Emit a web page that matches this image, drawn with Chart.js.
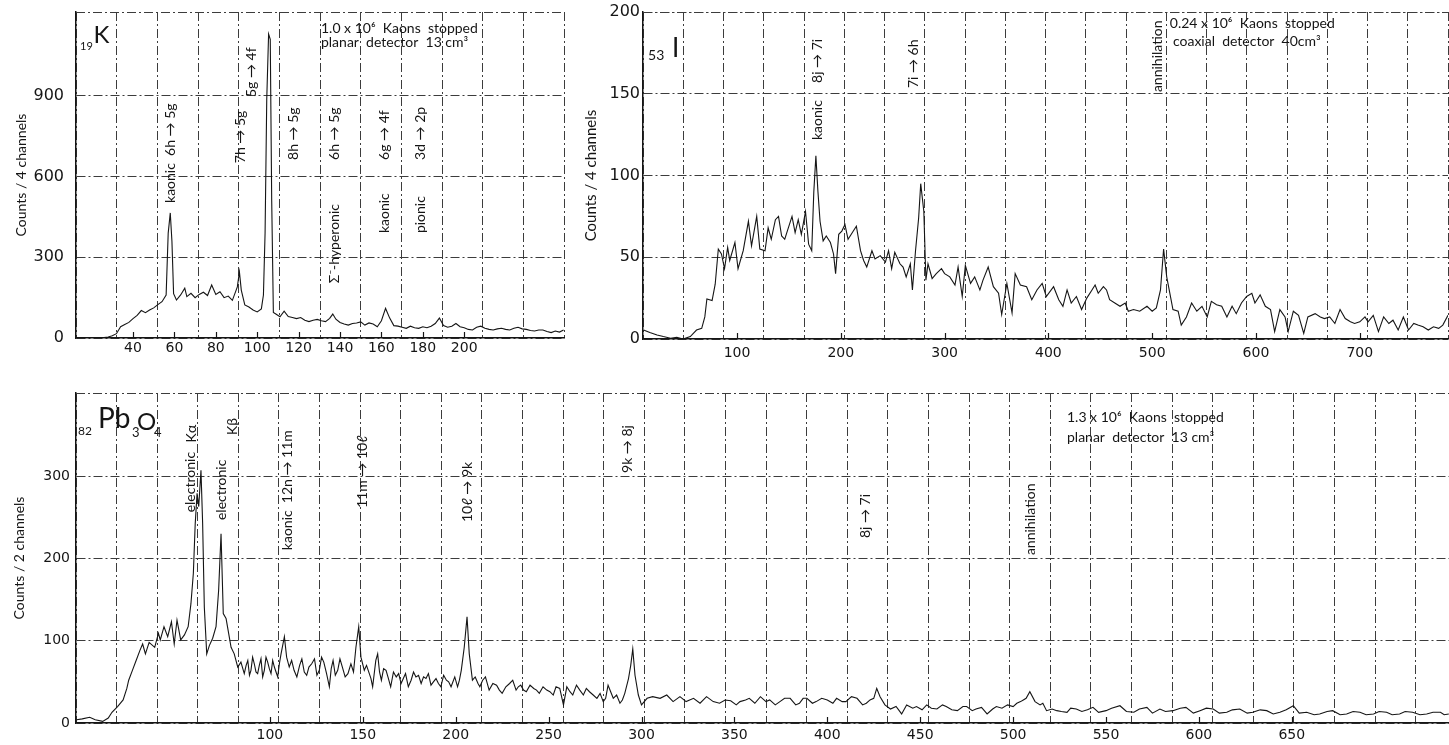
<!DOCTYPE html>
<html>
<head>
<meta charset="utf-8">
<title>Kaonic X-ray spectra</title>
<script src="https://cdn.jsdelivr.net/npm/chart.js@4.4.1/dist/chart.umd.min.js"></script>
<style>
  html, body { margin: 0; padding: 0; background: #fff; }
  body { position: relative; width: 1449px; height: 745px; overflow: hidden; }
  canvas { position: absolute; }
</style>
</head>
<body>
<canvas id="kChart" width="575" height="365" style="left:0;top:0"></canvas>
<canvas id="iChart" width="874" height="365" style="left:575px;top:0"></canvas>
<canvas id="pbChart" width="1449" height="365" style="left:0;top:380px"></canvas>
<script>
// 19K, planar detector (keV, counts / 4 channels)
const kEnergy = [
  12,14,16,18,20,22,24,26,28,30,
  32,34,36,38,40,42,44,46,48,50,
  52,54,56,57,58,58.8,59.6,61,63,65,
  66,68,70,72,74,76,78,80,82,84,
  86,88,90.4,91.4,92.3,94,96,98,100,102,
  103,103.8,104.6,105.5,106.3,107,107.8,109,111,113,
  115,117,119,121,123,125,127,129,131,133,
  135,136.5,138,140,142,144,146,148,150,152,
  154,156,158,160,162,164,166,168,170,172,
  174,176,178,180,182,184,186,188,190,192,
  194,196,198,200,202,204,206,208,210,212,
  214,216,218,220,222,224,226,228,230,232,
  234,236,238,240,242,244,246,248
];
const kCounts = [
  0,0,1,0,0,1,0,2,4,8,
  16,42,50,58,72,84,102,94,104,112,
  124,135,160,390,465,360,165,141,160,185,
  154,166,150,162,170,158,197,162,172,150,
  156,140,190,246,178,123,115,104,97,108,
  160,390,885,1130,1110,510,95,89,79,100,
  80,76,72,76,66,61,66,69,64,61,
  73,89,70,58,52,48,54,56,60,48,
  56,52,42,64,110,74,46,44,40,36,
  44,38,36,42,38,44,54,74,46,40,
  44,54,42,38,32,30,40,44,36,32,
  30,34,36,32,30,36,40,34,32,28,
  26,30,30,24,20,26,22,30
];

// 53I, coaxial detector (keV, counts / 4 channels)
const iEnergy = [
  10,16,23,29,36,42,48,55,61,66,
  69,71,76,79,82,85,88,91,93,98,
  101,106,111,114,119,122,127,130,133,137,
  140,143,146,149,153,156,159,162,166,169,
  172,174,176,178,180,183,186,190,193,195,
  198,201,204,207,211,215,219,222,225,230,
  233,238,243,246,249,252,257,260,263,267,
  269,272,275,277,280,282,284,288,292,297,
  300,305,310,313,317,320,325,329,334,337,
  342,347,352,355,360,365,368,373,379,384,
  389,394,398,405,410,414,418,422,427,432,
  437,442,445,448,453,456,459,464,469,474,
  477,482,488,495,500,504,508,511,514,517,
  520,525,528,533,538,543,548,553,557,562,
  567,572,577,581,586,591,596,599,604,609,
  614,618,623,628,631,636,641,646,650,657,
  662,666,671,676,681,686,691,695,700,705,
  708,713,718,723,728,732,737,742,747,752,
  756,761,766,771,776,780,785
];
const iCounts = [
  5.5,4,2.5,1.5,0.5,1,0,1.5,5.5,6.5,
  13.5,24.5,23.5,33.5,55,52,43,56,48,59,
  43,54,72,57,75,55,54,68,61,73,
  75,63,61,67,75,65,73,64,78,58,
  54,90,112,90,72,60,63,59,52,40,
  64,66,70,61,65,69,54,48,44,54,
  49,51,47,54,43,53,46,44,38,46,
  30,54,74,95,78,36,46,37,40,43,
  40,38,33,44,26,45,34,38,30,36,
  44,32,28,15,34,16,40,33,32,24,
  30,34,26,32,24,20,30,22,26,18,
  25,30,33,28,32,30,24,22,20,22,
  17,18,17,20,17,19,30,55,38,28,
  18,17,8.5,13.5,22,17,20,13.5,23,21,
  20,13.5,20,15.5,22,26,28,22,27,20,
  18,4.5,18,13.5,4.5,17,14.5,3.5,13.5,15.5,
  13.5,12.5,13.5,9.5,18,12.5,10.5,9.5,10.5,13.5,
  10.5,14.5,4.5,13.5,9.5,11.5,5.5,13.5,5.5,9.5,
  8.5,7.5,5.5,7.5,6.5,8.5,14.5
];

// 82Pb3O4, planar detector (keV, counts / 2 channels)
const pbEnergy = [
  -4,-1,3,6,10,13,15,18,21,23,
  24,26,28,30,31.5,33,35,38,40,41,
  43,45,47,48.5,50,52,54,56,57.5,58.8,
  59.8,60.8,61.7,62.9,63.8,64.7,66,67.4,69.2,71,
  72.4,73.7,74.9,76.4,77.8,79.1,80.8,82.7,84.4,86.2,
  87.2,88.1,89,89.8,90.7,91.6,92.5,93.4,94.3,95.2,
  96.1,97,97.9,98.8,99.7,100.6,101.5,102.4,103.3,104.2,
  105.1,106,107.8,109,110.4,111.7,113,114.5,116,117.2,
  118.5,119.8,121,122.5,124,125.3,126.6,127.8,129,130.5,
  132,133,134,135.2,136.5,137.7,139,140.5,142,143.6,
  145,146.3,147.8,149,150.8,152,153.5,154.4,155.3,157,
  158,159,160,161.2,162.5,163.8,165,166.5,168,169.3,
  170.6,171.8,173,174.5,176,177.3,178.6,180,181.4,182.7,
  184,185.3,186.7,188,189.4,190.7,192,193.5,195,196.2,
  197.5,199.5,201,202,203,204.6,206.1,207.3,209,210.5,
  212,213,214.5,216,218,220,222,223.5,225,227,
  229,230.7,232.5,233.7,235,236.5,238,240,242,243.5,
  245,247,249,250.7,252.5,254,256,258,259.8,261.5,
  263,265,266.8,268.7,270.3,272,274,276,277.7,279.4,
  280.7,282,283.4,284.8,286.6,288.4,289.7,291,293,294.2,
  295.3,296.5,298.3,300,303,306,310,313.6,317,320.7,
  324,328,331.5,335,338.6,342,345,348,351,353,
  356,358,361,364,367,369,372,374.5,377,380,
  383,385,387,389,392,394,397,400,403,405,
  408,410,413,416,419,421,423,425,426.6,428.4,
  431,434,437,440,442.7,446,448,451,453.5,456,
  459,462,464,467,470,473,475,478,480,483,
  486,489,491,494,497,500,502,504,505.5,507,
  509,511.8,514.5,516,518,521,523.5,526,529,531,
  534,537,540,543,546,550,553,557.5,561,565,
  568,572,575,579,582,586,590,593,597,600.6,
  604,607.7,611,615,618,622,626,629,633,636.5,
  640,643.6,647,650.8,654,658,662,665,669,672,
  676,679.5,683,686.7,690,694,697,701,704,708,
  711,715,719,722.6,726,730,732,734.5
];
const pbCounts = [
  4,5,7,4,2,6,13,20,28,42,
  52,64,76,88,96,84,98,92,109,101,
  117,105,123,96,125,101,107,117,145,182,
  242,279,263,307,242,141,84,94,103,117,
  161,230,133,127,109,92,84,68,74,60,
  70,76,58,64,80,72,62,60,70,78,
  56,64,80,74,66,60,76,68,62,56,
  72,84,105,80,68,76,64,56,70,78,
  62,58,68,72,78,58,64,80,74,60,
  44,66,76,58,64,78,68,56,60,72,
  62,92,117,80,64,70,60,54,44,76,
  84,62,52,66,64,54,44,62,56,60,
  48,54,60,44,52,62,56,58,48,56,
  54,60,46,50,54,48,44,58,52,50,
  44,56,44,52,64,92,129,84,52,56,
  48,44,52,56,40,48,46,40,36,44,
  48,52,40,44,46,40,38,46,42,40,
  36,44,40,38,34,44,42,22,44,38,
  34,46,40,34,42,38,34,30,36,26,
  30,46,38,30,34,24,28,36,54,70,
  90,58,34,22,30,32,30,34,26,32,
  26,30,24,32,26,24,28,27,22,26,
  28,30,24,32,26,28,22,26,30,30,
  22,24,30,30,24,26,30,28,24,30,
  26,26,32,30,22,24,28,30,42,32,
  22,17,20,11,22,18,20,16,22,18,
  17,22,20,16,15,20,20,15,17,19,
  11,17,20,18,22,20,24,26,28,30,
  38,26,22,24,15,17,15,14,13,18,
  17,14,16,19,13,15,18,21,14,13,
  17,19,12,17,14,15,18,19,12,15,
  18,17,12,13,16,17,12,13,16,15,
  11,13,16,21,12,13,10,11,14,15,
  10,11,14,13,10,11,14,13,10,11,
  14,13,10,11,13,13,10,11
];

const kTicks = [40, 60, 80, 100, 120, 140, 160, 180, 200];
const iTicks = [100, 200, 300, 400, 500, 600, 700];
const pbTicks = [100, 150, 200, 250, 300, 350, 400, 450, 500, 550, 600, 650];
const kCountTicks = [0, 300, 600, 900];
const iCountTicks = [0, 50, 100, 150, 200];
const pbCountTicks = [0, 100, 200, 300];

// line labels, placed in data coordinates (rot = written bottom to top)
const NOTES = {
  kChart: [
    {x: 14.4, y: 1071, text: "19", size: 11},
    {x: 20.9, y: 1097, text: "K", size: 24},
    {x: 130.8, y: 1134, text: "1.0 x 10⁶  Kaons  stopped"},
    {x: 130.8, y: 1082, text: "planar  detector  13 cm³"},
    {x: 57.9, y: 502, text: "kaonic  6h → 5g", rot: true},
    {x: 91.7, y: 650, text: "7h → 5g", rot: true},
    {x: 97, y: 896, text: "5g → 4f", rot: true},
    {x: 117.3, y: 662, text: "8h → 5g", rot: true},
    {x: 137.1, y: 204, text: "Σ⁻-hyperonic", rot: true},
    {x: 137.1, y: 662, text: "6h → 5g", rot: true},
    {x: 161.7, y: 390, text: "kaonic", rot: true},
    {x: 161.7, y: 662, text: "6g → 4f", rot: true},
    {x: 179.1, y: 390, text: "pionic", rot: true},
    {x: 179.1, y: 662, text: "3d → 2p", rot: true}
  ],
  iChart: [
    {x: 14.3, y: 170.6, text: "53", size: 14},
    {x: 37.4, y: 172.5, text: "I", size: 26},
    {x: 178, y: 121.7, text: "kaonic", rot: true},
    {x: 178, y: 156.6, text: "8j → 7i", rot: true},
    {x: 269.6, y: 153.5, text: "7i → 6h", rot: true},
    {x: 504.8, y: 151, text: "annihilation", rot: true},
    {x: 517, y: 190.2, text: "0.24 x 10⁶  Kaons  stopped"},
    {x: 520, y: 179.2, text: "coaxial  detector  40cm³"}
  ],
  pbChart: [
    {x: -3.3, y: 350, text: "82", size: 12},
    {x: 7.5, y: 358.5, text: "Pb", size: 28},
    {x: 25.8, y: 347, text: "3", size: 13},
    {x: 28.5, y: 356, text: "O", size: 24},
    {x: 37.6, y: 347, text: "4", size: 13},
    {x: 57, y: 256, text: "electronic", rot: true},
    {x: 58, y: 341, text: "Kα", rot: true},
    {x: 74.2, y: 246.6, text: "electronic", rot: true},
    {x: 79.6, y: 350, text: "Kβ", rot: true},
    {x: 109.7, y: 210, text: "kaonic  12n → 11m", rot: true},
    {x: 149.6, y: 261.2, text: "11m → 10ℓ", rot: true},
    {x: 206.1, y: 244.2, text: "10ℓ → 9k", rot: true},
    {x: 292.2, y: 303.8, text: "9k → 8j", rot: true},
    {x: 420.8, y: 224.7, text: "8j → 7i", rot: true},
    {x: 509.1, y: 204, text: "annihilation", rot: true},
    {x: 529, y: 365.8, text: "1.3 x 10⁶  Kaons  stopped"},
    {x: 529, y: 341.5, text: "planar  detector  13 cm³"}
  ]
};

const INK = "#151515";
const GRID = "#3c3c3c";
const FONT = "Lato, 'DejaVu Sans', sans-serif";
const NUMFONT = "'DejaVu Sans', sans-serif";
const DASHDOT = [9, 3, 2, 3];

// top edge, inward tick marks and the line labels
const inkPlugin = {
  id: "ink",
  afterDraw(chart) {
    const {ctx, chartArea: a, scales} = chart;
    ctx.save();
    ctx.strokeStyle = GRID;
    ctx.lineWidth = 1;
    ctx.setLineDash(DASHDOT);
    ctx.beginPath();
    ctx.moveTo(a.left, a.top + 0.5);
    ctx.lineTo(a.right, a.top + 0.5);
    ctx.stroke();
    ctx.setLineDash([]);
    ctx.strokeStyle = INK;
    ctx.lineWidth = 1.2;
    scales.x.ticks.forEach(t => {
      const px = Math.round(scales.x.getPixelForValue(t.value)) + 0.5;
      ctx.beginPath();
      ctx.moveTo(px, a.bottom);
      ctx.lineTo(px, a.bottom - 6);
      ctx.stroke();
    });
    ctx.fillStyle = INK;
    (NOTES[chart.canvas.id] || []).forEach(n => {
      ctx.save();
      ctx.translate(scales.x.getPixelForValue(n.x), scales.y.getPixelForValue(n.y));
      ctx.font = (n.size || 14) + "px " + FONT;
      ctx.textAlign = "left";
      if (n.rot) {
        ctx.rotate(-Math.PI / 2);
        ctx.textBaseline = "middle";
      } else {
        ctx.textBaseline = "alphabetic";
      }
      ctx.fillText(n.text, 0, 0);
      ctx.restore();
    });
    ctx.restore();
  }
};

function spectrum(id, o) {
  return new Chart(id, {
    type: "line",
    data: {
      datasets: [{
        data: o.energy.map((e, i) => ({x: e, y: o.counts[i]})),
        borderColor: INK,
        borderWidth: 1.1,
        pointRadius: 0,
        tension: 0,
        fill: false
      }]
    },
    options: {
      responsive: false,
      animation: false,
      devicePixelRatio: 1,
      layout: {padding: o.pad},
      plugins: {legend: {display: false}, tooltip: {enabled: false}},
      scales: {
        x: {
          type: "linear", position: "bottom", min: o.xMin, max: o.xMax,
          afterBuildTicks: s => { s.ticks = o.xTicks.map(v => ({value: v})); },
          afterFit: s => { s.height = o.xH; s.paddingLeft = 0; s.paddingRight = 0; },
          grid: {display: false, drawTicks: false},
          border: {display: true, color: INK, width: 1.5},
          ticks: {color: INK, padding: o.xPad, maxRotation: 0, autoSkip: false,
                  font: {family: NUMFONT, size: 14}}
        },
        paper: {
          type: "linear", position: "bottom", min: 0, max: o.cells,
          afterBuildTicks: s => {
            const t = [];
            for (let k = 0; k <= o.cells; k++) t.push({value: k});
            t.push({value: o.cells});
            s.ticks = t;
          },
          afterFit: s => { s.height = 0; },
          grid: {color: GRID, lineWidth: 1, drawTicks: false},
          border: {display: false, dash: DASHDOT},
          ticks: {display: false}
        },
        y: {
          min: 0, max: o.yMax,
          afterBuildTicks: s => { s.ticks = o.yTicks.map(v => ({value: v})); },
          afterFit: s => { s.width = o.yW; s.paddingTop = 0; s.paddingBottom = 0; },
          grid: {color: GRID, lineWidth: 1, drawTicks: false},
          border: {display: true, color: INK, width: 1.5, dash: DASHDOT},
          ticks: {color: INK, padding: o.yPad, font: {family: NUMFONT, size: o.yFont}},
          title: {display: true, text: o.yTitle, color: INK,
                  font: {family: FONT, size: o.titleSize},
                  padding: {top: o.titlePad, bottom: 0}}
        }
      }
    },
    plugins: [inkPlugin]
  });
}

spectrum("kChart", {
  energy: kEnergy, counts: kCounts,
  xMin: 12.46, xMax: 248.2, xTicks: kTicks,
  yMax: 1212, yTicks: kCountTicks,
  pad: {left: 0, top: 12, right: 11, bottom: 0},
  xH: 27, yW: 76, xPad: 2, yPad: 12, yFont: 16, cells: 12,
  yTitle: "Counts / 4 channels", titleSize: 14, titlePad: 13
});

spectrum("iChart", {
  energy: iEnergy, counts: iCounts,
  xMin: 9.44, xMax: 785, xTicks: iTicks,
  yMax: 200, yTicks: iCountTicks,
  pad: {left: 0, top: 12, right: 1, bottom: 0},
  xH: 26, yW: 68, xPad: 6, yPad: 3, yFont: 16, cells: 20,
  yTitle: "Counts / 4 channels", titleSize: 15, titlePad: 7
});

spectrum("pbChart", {
  energy: pbEnergy, counts: pbCounts,
  xMin: -4.36, xMax: 734.6, xTicks: pbTicks,
  yMax: 401, yTicks: pbCountTicks,
  pad: {left: 0, top: 13, right: 0, bottom: 0},
  xH: 22, yW: 76, xPad: 4, yPad: 6, yFont: 14, cells: 33.82,
  yTitle: "Counts / 2 channels", titleSize: 14, titlePad: 11
});
</script>
</body>
</html>
